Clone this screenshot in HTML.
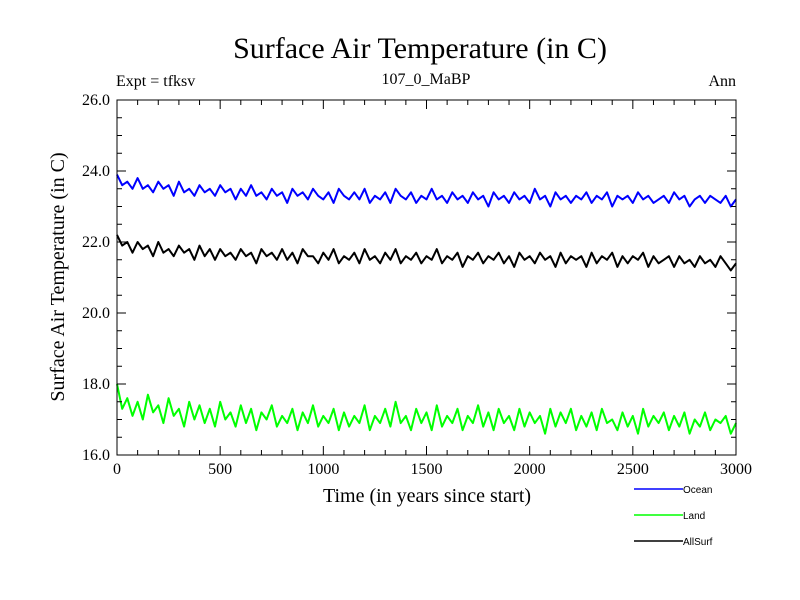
<!DOCTYPE html>
<html><head><meta charset="utf-8"><style>
body{margin:0;background:#fff;}
svg{display:block;font-family:"Liberation Serif",serif;}
</style></head><body>
<svg id="chart" width="800" height="600">
<rect width="800" height="600" fill="#fff"/>
<text x="420" y="58" font-size="30" text-anchor="middle">Surface Air Temperature (in C)</text>
<text x="116" y="86" font-size="16">Expt = tfksv</text>
<text x="426" y="84" font-size="16" text-anchor="middle">107_0_MaBP</text>
<text x="736" y="86" font-size="16" text-anchor="end">Ann</text>
<text x="427" y="502" font-size="20" text-anchor="middle">Time (in years since start)</text>
<text transform="translate(64,277) rotate(-90)" font-size="20" text-anchor="middle">Surface Air Temperature (in C)</text>
<g id="series"></g>
<g id="axes"></g>
<g id="legend"></g>
</svg>
<script>
const xTicks=[0,500,1000,1500,2000,2500,3000];
const yTicks=[16.0,18.0,20.0,22.0,24.0,26.0];
const seriesNames=["Ocean","Land","AllSurf"];
const seriesColors=["#0000ff","#00ff00","#000000"];
const ocean=[23.9,23.6,23.7,23.5,23.8,23.5,23.6,23.4,23.7,23.5,23.6,23.3,23.7,23.4,23.5,23.3,23.6,23.4,23.5,23.3,23.6,23.4,23.5,23.2,23.5,23.3,23.6,23.3,23.4,23.2,23.5,23.3,23.4,23.1,23.5,23.3,23.4,23.2,23.5,23.3,23.2,23.4,23.1,23.5,23.3,23.2,23.4,23.2,23.5,23.1,23.3,23.2,23.4,23.1,23.5,23.3,23.2,23.4,23.1,23.3,23.2,23.5,23.2,23.3,23.1,23.4,23.2,23.3,23.1,23.4,23.2,23.3,23.0,23.4,23.2,23.3,23.1,23.4,23.2,23.3,23.1,23.5,23.2,23.3,23.0,23.4,23.2,23.3,23.1,23.3,23.2,23.4,23.1,23.3,23.2,23.4,23.0,23.3,23.2,23.3,23.1,23.4,23.2,23.3,23.1,23.2,23.3,23.1,23.4,23.2,23.3,23.0,23.2,23.3,23.1,23.3,23.2,23.1,23.3,23.0,23.2];
const land=[18.0,17.3,17.6,17.1,17.5,17.0,17.7,17.2,17.4,16.9,17.6,17.1,17.3,16.8,17.5,17.0,17.4,16.9,17.3,16.8,17.5,17.0,17.2,16.8,17.4,16.9,17.3,16.7,17.2,17.0,17.4,16.8,17.1,16.9,17.3,16.7,17.2,16.9,17.4,16.8,17.1,16.9,17.3,16.7,17.2,16.8,17.1,16.9,17.4,16.7,17.1,16.9,17.3,16.8,17.5,16.9,17.1,16.7,17.3,16.9,17.2,16.7,17.4,16.8,17.1,16.9,17.3,16.7,17.1,16.9,17.4,16.8,17.2,16.7,17.3,16.9,17.1,16.7,17.3,16.8,17.2,16.9,17.1,16.6,17.3,16.8,17.2,16.9,17.3,16.7,17.1,16.8,17.2,16.7,17.3,16.9,17.0,16.7,17.2,16.8,17.1,16.6,17.3,16.8,17.1,16.9,17.2,16.7,17.1,16.8,17.2,16.6,17.0,16.8,17.2,16.7,17.0,16.9,17.1,16.6,16.9];
const allSurf=[22.2,21.9,22.0,21.7,22.0,21.8,21.9,21.6,22.0,21.7,21.8,21.6,21.9,21.7,21.8,21.5,21.9,21.6,21.8,21.5,21.8,21.6,21.7,21.5,21.8,21.6,21.7,21.4,21.8,21.6,21.7,21.5,21.8,21.5,21.7,21.4,21.8,21.6,21.6,21.4,21.7,21.5,21.8,21.4,21.6,21.5,21.7,21.4,21.8,21.5,21.6,21.4,21.7,21.5,21.8,21.4,21.6,21.5,21.7,21.4,21.6,21.5,21.8,21.4,21.6,21.5,21.7,21.3,21.6,21.5,21.7,21.4,21.6,21.5,21.7,21.4,21.6,21.3,21.7,21.5,21.6,21.4,21.7,21.5,21.6,21.3,21.7,21.4,21.6,21.5,21.6,21.3,21.7,21.4,21.6,21.5,21.7,21.3,21.6,21.4,21.6,21.5,21.7,21.3,21.6,21.4,21.5,21.6,21.3,21.6,21.4,21.5,21.3,21.6,21.4,21.5,21.3,21.6,21.4,21.2,21.4];
const X0=117,X1=736,Y0=455,Y1=100;
function xs(v){return X0+(v-0)/(3000-0)*(X1-X0);}
function ys(v){return Y0-(v-16)/(26-16)*(Y0-Y1);}
const NS="http://www.w3.org/2000/svg";
function mk(t,a,p){const e=document.createElementNS(NS,t);for(const k in a)e.setAttribute(k,a[k]);p.appendChild(e);return e;}
const sg=document.getElementById('series');
[ocean,land,allSurf].forEach((arr,si)=>{
  const pts=arr.map((v,i)=>xs(i*3000/(arr.length-1)).toFixed(1)+","+ys(v).toFixed(1)).join(" ");
  const pl=mk('polyline',{points:pts,fill:'none',stroke:seriesColors[si],'stroke-width':2,'stroke-linejoin':'round'},sg);
  
  
});
const ag=document.getElementById('axes');
const frame=mk('rect',{x:X0,y:Y1,width:X1-X0,height:Y0-Y1,fill:'none',stroke:'#000','stroke-width':1},ag);


for(let v=0;v<=3000;v+=100){
  const x=xs(v),len=(v%500===0)?9:5;
  mk('line',{x1:x,y1:Y0,x2:x,y2:Y0-len,stroke:'#000'},ag);
  mk('line',{x1:x,y1:Y1,x2:x,y2:Y1+len,stroke:'#000'},ag);
}
for(let v=16;v<=26.001;v+=0.5){
  const y=ys(v),len=(Math.abs(v-Math.round(v/2)*2)<0.01)?9:5;
  mk('line',{x1:X0,y1:y,x2:X0+len,y2:y,stroke:'#000'},ag);
  mk('line',{x1:X1,y1:y,x2:X1-len,y2:y,stroke:'#000'},ag);
}
xTicks.forEach(v=>{
  const t=mk('text',{x:xs(v),y:Y0+19,'font-size':16,'text-anchor':'middle'},ag);
  t.textContent=String(v);
  
  
});
yTicks.forEach(v=>{
  const t=mk('text',{x:X0-7,y:ys(v)+5,'font-size':16,'text-anchor':'end'},ag);
  t.textContent=v.toFixed(1);
  
  
});
const lg=document.getElementById('legend');
seriesNames.forEach((n,i)=>{
  const y=489+i*26;
  const ln=mk('line',{x1:634,y1:y,x2:683,y2:y,stroke:seriesColors[i],'stroke-width':1.5},lg);
  
  
  const t=mk('text',{x:683,y:y+4,'font-size':10,'font-family':'Liberation Sans, sans-serif'},lg);
  t.textContent=n;
  
  
});
</script>
</body></html>
